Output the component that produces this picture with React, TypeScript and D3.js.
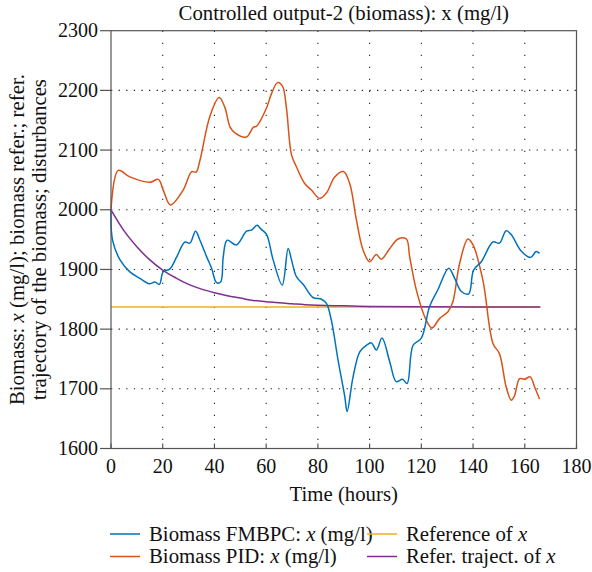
import React from "react";
import * as d3 from "d3";

const title = "Controlled output-2 (biomass): x (mg/l)";
const xTicks = [0, 20, 40, 60, 80, 100, 120, 140, 160, 180];
const yTicks = [1600, 1700, 1800, 1900, 2000, 2100, 2200, 2300];

const fmbpcT = [0, 0.6, 3.5, 7.3, 11.2, 14.8, 17, 18.7, 20.2, 22.8, 25.4, 28.6, 30.5, 32.7, 34.4, 37, 38.9, 40.8, 42.4, 43.4, 44.9, 48.5, 52.4, 54.3, 56.5, 57.9, 60.1, 62.7, 66.2, 68.5, 69.8, 71.7, 74.5, 78.1, 81.4, 83.3, 85.2, 87.8, 90.4, 91.3, 93.6, 96.2, 98.8, 100.7, 102.6, 104.8, 107.8, 110.3, 112.7, 114.5, 116.8, 120, 123.2, 126.4, 130.6, 132.9, 135.5, 138.3, 140.2, 143.2, 147.7, 150.2, 152.8, 154.8, 158.6, 162.2, 164.4, 165.7];
const fmbpcV = [2000, 1949, 1916, 1896, 1885, 1876, 1879, 1875, 1896, 1901, 1921, 1946, 1944, 1964, 1949, 1921, 1902, 1878, 1879, 1921, 1949, 1941, 1964, 1966, 1974, 1968, 1959, 1916, 1874, 1935, 1916, 1888, 1874, 1853, 1850, 1843, 1815, 1748, 1687, 1662, 1720, 1762, 1773, 1777, 1765, 1785, 1745, 1712, 1716, 1709, 1773, 1785, 1838, 1866, 1902, 1885, 1863, 1859, 1899, 1913, 1946, 1944, 1965, 1958, 1931, 1920, 1930, 1927];

const pidT = [0, 2.8, 7.3, 15, 18.3, 20.2, 23, 27.9, 31.2, 32.9, 34.4, 38.2, 41.8, 44, 46, 47.9, 52.4, 55, 56.3, 60.1, 62.1, 64.4, 66.3, 67.8, 69.8, 71.7, 74.9, 77.5, 80.7, 83.3, 86.5, 89.9, 92.3, 94.9, 97.5, 100, 102.6, 104.5, 107.8, 111, 114.2, 115.5, 118.1, 121.9, 124.1, 127.1, 130.3, 132.2, 134.8, 138, 140, 143.8, 147.7, 150.2, 152.8, 154.8, 156, 158, 159.9, 162.1, 163.8, 165.7];
const pidV = [2000, 2066, 2055, 2046, 2051, 2033, 2008, 2033, 2064, 2063, 2083, 2156, 2188, 2172, 2139, 2129, 2122, 2138, 2140, 2170, 2195, 2213, 2207, 2172, 2092, 2072, 2044, 2033, 2019, 2028, 2055, 2064, 2044, 1983, 1932, 1913, 1925, 1917, 1935, 1951, 1951, 1921, 1865, 1815, 1802, 1818, 1829, 1846, 1910, 1951, 1941, 1882, 1776, 1759, 1703, 1681, 1688, 1717, 1716, 1720, 1703, 1683];

const refT = [0, 166];
const refV = [1837, 1837];

const trajT = [0, 5, 10, 15, 20, 25, 30, 35, 40, 45, 50, 55, 60, 65, 70, 75, 80, 90, 100, 120, 140, 166];
const trajV = [2000, 1965, 1938, 1916, 1899, 1886, 1875, 1867, 1861, 1856, 1852, 1848, 1846, 1844, 1842.5, 1841, 1840, 1839, 1838, 1837.5, 1837, 1837];

const seriesNames = ["Biomass FMBPC: ", "Biomass PID: ", "Reference of ", "Refer. traject. of "];
const seriesSuffix = [" (mg/l)", " (mg/l)", "", ""];
const colors = ["#0072BD", "#D95319", "#EDB120", "#7E2F8E"];

const W = 592, H = 572;
const L = 111, R = 576.5, T = 30.7, B = 448.5;
const FONT = "Liberation Serif";
const tickTxt: React.CSSProperties = { fontFamily: FONT, fontSize: 20 };
const txt: React.CSSProperties = { fontFamily: FONT, fontSize: 20.8 };

export default function App() {
  const x = d3.scaleLinear().domain([0, 180]).range([L, R]);
  const y = d3.scaleLinear().domain([1600, 2300]).range([B, T]);
  const zip = (ts: number[], vs: number[]) => ts.map((t, i) => [t, vs[i]] as [number, number]);
  const lineSmooth = d3.line<[number, number]>().x(d => x(d[0])).y(d => y(d[1])).curve(d3.curveCatmullRom.alpha(0.5));
  const lineStraight = d3.line<[number, number]>().x(d => x(d[0])).y(d => y(d[1])).curve(d3.curveMonotoneX);

  const series = [
    { d: lineSmooth(zip(fmbpcT, fmbpcV)), c: colors[0] },
    { d: lineSmooth(zip(pidT, pidV)), c: colors[1] },
    { d: lineStraight(zip(refT, refV)), c: colors[2] },
    { d: lineStraight(zip(trajT, trajV)), c: colors[3] },
  ];
  const order = [2, 3, 1, 0];

  const legendPos = [
    { lx: 110, ty: 534 },
    { lx: 110, ty: 556.5 },
    { lx: 367, ty: 534 },
    { lx: 367, ty: 556.5 },
  ];

  return (
    <svg width={W} height={H} style={{ position: "absolute", left: 0, top: 0, background: "#fff" }}>
      <rect x={0} y={0} width={W} height={H} fill="#fff" />
      {xTicks.slice(1, -1).map(t => (
        <line key={"gx" + t} x1={x(t)} x2={x(t)} y1={T} y2={B} stroke="#222" strokeWidth={1.1} strokeDasharray="1.3,10.7" />
      ))}
      {yTicks.slice(1, -1).map(t => (
        <line key={"gy" + t} x1={L} x2={R} y1={y(t)} y2={y(t)} stroke="#222" strokeWidth={1.1} strokeDasharray="1.3,6.3" />
      ))}
      {order.map(i => (
        <path key={"s" + i} d={series[i].d || ""} fill="none" stroke={series[i].c} strokeWidth={1.5} />
      ))}
      <rect x={L} y={T} width={R - L} height={B - T} fill="none" stroke="#555" strokeWidth={1.2} />
      {xTicks.map(t => (
        <g key={"xt" + t}>
          <line x1={x(t)} x2={x(t)} y1={B} y2={B - 5} stroke="#555" strokeWidth={1.2} />
          <text x={x(t)} y={B + 24} textAnchor="middle" style={tickTxt} fill="#111">{t}</text>
        </g>
      ))}
      {yTicks.map(t => (
        <g key={"yt" + t}>
          <line x1={L - 11} x2={L} y1={y(t)} y2={y(t)} stroke="#555" strokeWidth={1.2} />
          <text x={L - 13} y={y(t) + 6.5} textAnchor="end" style={tickTxt} fill="#111">{t}</text>
        </g>
      ))}
      <text x={(L + R) / 2} y={20} textAnchor="middle" style={txt} fill="#111">{title}</text>
      <text x={(L + R) / 2} y={501} textAnchor="middle" style={txt} fill="#111">Time (hours)</text>
      <g transform={`translate(24, ${(T + B) / 2}) rotate(-90)`}>
        <text x={0} y={0} textAnchor="middle" style={txt} fill="#111">
          Biomass: <tspan fontStyle="italic">x</tspan> (mg/l); biomass refer.; refer.
        </text>
        <text x={0} y={22} textAnchor="middle" style={txt} fill="#111">trajectory of the biomass; disturbances</text>
      </g>
      {seriesNames.map((n, i) => (
        <g key={"lg" + i}>
          <line x1={legendPos[i].lx} x2={legendPos[i].lx + 30} y1={legendPos[i].ty} y2={legendPos[i].ty} stroke={colors[i]} strokeWidth={1.5} />
          <text x={legendPos[i].lx + 39} y={legendPos[i].ty + 6.5} style={txt} fill="#111">
            {n}<tspan fontStyle="italic">x</tspan>{seriesSuffix[i]}
          </text>
        </g>
      ))}
    </svg>
  );
}
